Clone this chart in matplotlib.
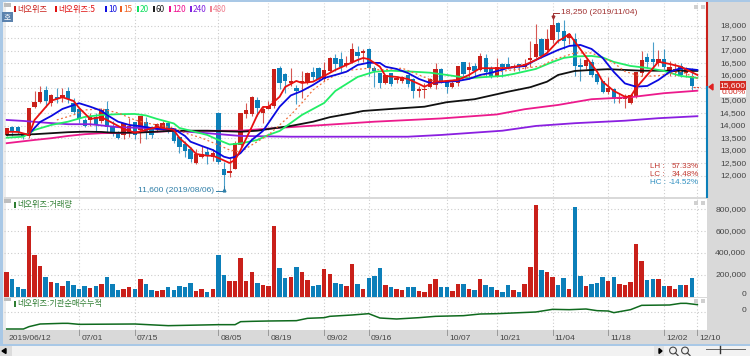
import matplotlib
matplotlib.use('Agg')
import matplotlib.pyplot as plt
from matplotlib.patches import Rectangle, Circle

W, H = 750, 356
KR = ['Noto Sans CJK KR', 'DejaVu Sans']
NUM = 'Liberation Sans'
RED = '#c9201a'
BLUE = '#0c7fb9'
GRAY = '#d9d9d9'
FS_NUM = 6.1
FS_KR = 5.9

opens = [13630, 13930, 13930, 13650, 13590, 14760, 14960, 15390, 14900, 15130, 15100, 15360, 14900, 14630, 14200, 14230, 14310,
         14200, 14630, 13960, 13700, 13630, 13700, 14120, 13830, 14120, 13900, 13900, 13900, 14070, 13760, 13520, 13250, 13030,
         12500, 12760, 12920, 12760, 14500, 12230, 12100, 12270, 13230, 14460, 14460, 15000, 14520, 14660, 14800, 16300, 16060,
         15720, 15500, 15720, 15700, 16120, 16300, 15870, 16200, 16670, 16630, 16430, 16560, 16930, 16920, 17060, 16270, 16070,
         15720, 16070, 15830, 15800, 16000, 15830, 15400, 15430, 15560, 15630, 16230, 15760, 15560, 15700, 16530, 16230, 16360,
         16230, 16700, 16300, 16000, 16430, 16460, 16300, 16460, 16360, 16630, 16760, 17430, 17030, 17430, 18100, 17760, 17500,
         17430, 16420, 16400, 16530, 16060, 15760, 15360, 15430, 15060, 15060, 14920, 15200, 16120, 16730, 16630, 16520, 16630,
         16120, 16160, 16360, 16100, 15960]
closes = [13870, 13760, 13760, 13600, 14700, 14920, 15340, 15000, 15190, 15050, 15200, 15060, 14560, 14270, 14000, 14310, 14030,
          14600, 13960, 13720, 13500, 14100, 13960, 13630, 14350, 13700, 13630, 14030, 14100, 13900, 13390, 13130, 13000, 12670,
          12850, 12830, 12830, 12870, 12530, 12030, 12160, 13300, 14470, 14590, 15140, 14720, 14630, 14760, 16230, 15720, 15800,
          15760, 15400, 15760, 16070, 15960, 15870, 16190, 16700, 16460, 16360, 16470, 17060, 16800, 16950, 16320, 16190, 15700,
          15990, 15670, 15900, 15930, 15670, 15400, 15430, 15450, 15830, 16230, 15760, 15560, 15700, 16360, 16060, 16340, 16190,
          16760, 16160, 15960, 16340, 16330, 16300, 16360, 16340, 16430, 16700, 17230, 16800, 17430, 18000, 17760, 17400, 17660,
          16400, 16330, 16600, 16030, 15740, 15360, 15470, 15060, 15100, 15100, 15200, 16120, 16590, 16560, 16530, 16630, 16340,
          16320, 16230, 16030, 16230, 15600]
highs = [13900, 14000, 14000, 13700, 14700, 15390, 15580, 15600, 15250, 15500, 15500, 15560, 15100, 14700, 14300, 14500, 14500,
         14700, 15000, 14200, 13800, 14100, 14300, 14150, 14400, 14350, 14000, 14100, 14200, 14150, 13800, 13600, 13400, 13150,
         13050, 13200, 13100, 13050, 14550, 12560, 12700, 13400, 14500, 14900, 15200, 15150, 14800, 15000, 16250, 16370, 16100,
         16300, 15620, 16200, 16150, 16360, 16350, 16560, 16750, 16870, 16950, 16800, 17300, 17200, 17050, 17100, 16400, 16070,
         16000, 16100, 16000, 16000, 16000, 15900, 15600, 15700, 15900, 16500, 16300, 15800, 15800, 16400, 16560, 16550, 16500,
         16920, 16850, 16400, 16700, 16500, 16750, 16450, 16480, 16650, 17390, 18070, 17500, 17850, 18250, 18150, 18220, 17700,
         17700, 16700, 16650, 16650, 16100, 15800, 15950, 15500, 15300, 15250, 15250, 16120, 17000, 16920, 17360, 17030, 17060,
         16600, 16500, 16500, 16350, 16300]
lows = [13600, 13600, 13650, 13450, 13500, 14700, 14900, 14760, 14800, 14900, 14950, 14900, 14450, 14100, 13950, 14000, 13800,
        14100, 13750, 13600, 13450, 13450, 13550, 13450, 13300, 13450, 13500, 13750, 13800, 13700, 13300, 12920, 12760, 12550,
        12450, 12700, 12450, 12600, 12450, 11400, 11950, 12250, 13150, 14300, 14400, 14400, 14100, 14650, 14700, 15450, 15300,
        15600, 14870, 15100, 15650, 15830, 15800, 15800, 16150, 16200, 16150, 16350, 16500, 16550, 16550, 16000, 15550, 15520,
        15650, 15600, 15700, 15700, 15550, 15100, 15150, 15100, 15500, 15450, 15700, 15300, 15500, 15600, 16000, 15850, 15950,
        16200, 15950, 15900, 15950, 15950, 16250, 16200, 16200, 16250, 16350, 16700, 16700, 16900, 17300, 17300, 17050, 17250,
        16000, 15800, 16250, 15950, 15650, 15300, 15250, 14900, 14900, 14700, 14850, 15100, 16000, 16300, 16350, 16400, 16250,
        16000, 16000, 15950, 15950, 15400]
volume = [223, 156, 89, 73, 651, 379, 278, 177, 131, 122, 95, 138, 107, 73, 95, 80, 95, 116, 177, 113, 61, 73, 83, 70, 156, 116,
          61, 49, 58, 83, 61, 95, 89, 122, 55, 67, 43, 67, 385, 199, 138, 138, 355, 144, 229, 122, 101, 98, 648, 260, 168, 180,
          269, 223, 150, 98, 107, 248, 205, 122, 113, 92, 300, 119, 70, 168, 190, 263, 101, 83, 70, 61, 83, 83, 52, 43, 119,
          162, 89, 89, 55, 113, 113, 70, 61, 162, 101, 89, 61, 40, 101, 64, 37, 119, 272, 838, 242, 229, 180, 107, 168, 73, 820,
          187, 98, 119, 125, 180, 138, 180, 113, 101, 131, 480, 327, 150, 162, 162, 95, 95, 73, 107, 107, 168]

ma5_idx = [0, 2, 4, 5, 8, 10, 12, 13, 15, 17, 19, 21, 23, 25, 27, 30, 31, 33, 34, 36, 37, 38, 40, 41, 42, 44, 45, 46, 47, 49, 50,
           52, 53, 55, 57, 59, 61, 63, 64, 65, 67, 68, 70, 72, 74, 75, 77, 79, 81, 83, 85, 87, 90, 93, 95, 97, 99, 100, 101, 102,
           104, 106, 107, 109, 111, 112, 113, 115, 117, 119, 121, 124]
ma5 = [13760, 13750, 13630, 14230, 15000, 15140, 14990, 14710, 14270, 14340, 14110, 13870, 13720, 13830, 13950, 13830, 13510,
       13110, 12870, 12800, 12800, 12710, 12510, 12630, 13030, 13950, 14430, 14750, 14750, 15160, 15550, 15790, 15710, 15760,
       15990, 16230, 16430, 16630, 16710, 16660, 16360, 15990, 15950, 15870, 15670, 15560, 15760, 15790, 15830, 16030, 16300,
       16300, 16310, 16430, 16630, 16910, 17390, 17510, 17670, 17360, 16750, 16160, 15760, 15390, 15160, 15160, 15510, 16030,
       16560, 16470, 16360, 16030]
ma10_idx = [4, 6, 8, 10, 13, 15, 17, 18, 20, 22, 24, 27, 30, 32, 33, 35, 37, 39, 40, 41, 42, 44, 46, 47, 49, 51, 53, 55, 57, 59,
            61, 63, 65, 67, 68, 70, 72, 74, 76, 78, 81, 83, 85, 87, 90, 93, 95, 97, 99, 101, 103, 105, 107, 109, 111, 113, 115,
            117, 119, 121, 124]
ma10 = [13670, 14150, 14390, 14670, 14900, 14760, 14600, 14430, 14160, 14030, 13980, 13870, 13870, 13590, 13360, 13190, 13030,
        12760, 12700, 12750, 12910, 13430, 13790, 14110, 14760, 15210, 15390, 15630, 15910, 16030, 16160, 16430, 16520, 16510,
        16360, 16270, 16110, 15870, 15710, 15740, 15790, 15870, 16030, 16120, 16310, 16390, 16630, 16830, 17030, 17190, 17230,
        17070, 16710, 16150, 15690, 15560, 15590, 15830, 16150, 16300, 16230]
ma15_idx = [9, 12, 14, 17, 20, 23, 25, 28, 30, 32, 35, 38, 40, 42, 44, 47, 51, 53, 55, 57, 59, 62, 65, 67, 71, 74, 77, 81, 85, 88,
            92, 96, 98, 102, 105, 107, 109, 111, 114, 117, 121, 124]
ma15 = [14230, 14430, 14630, 14670, 14510, 14230, 14110, 13990, 13910, 13710, 13510, 13230, 13030, 12950, 13230, 13630, 14430,
        14910, 15430, 15760, 16030, 16230, 16300, 16230, 16300, 16030, 15760, 15830, 15990, 16150, 16270, 16390, 16630, 16910,
        16910, 16710, 16510, 16170, 15970, 16000, 16170, 15890]
ma20_idx = [0, 3, 5, 8, 11, 14, 17, 20, 23, 25, 27, 30, 31, 33, 36, 38, 40, 42, 45, 47, 49, 51, 53, 55, 57, 59, 61, 63, 66, 69, 73,
            76, 79, 83, 86, 89, 91, 95, 98, 100, 102, 105, 107, 109, 112, 115, 118, 121, 124]
ma20 = [13520, 13560, 13830, 14030, 14160, 14350, 14430, 14460, 14470, 14410, 14270, 14090, 13910, 13800, 13630, 13430, 13250,
        13290, 13430, 13630, 13790, 14110, 14430, 14670, 14910, 15390, 15670, 15950, 16160, 16200, 16160, 16120, 16030, 15900,
        15950, 15990, 16070, 16270, 16550, 16710, 16770, 16790, 16730, 16550, 16390, 16310, 16190, 15990, 15910]
ma60_idx = [0, 5, 8, 11, 14, 17, 19, 23, 26, 30, 36, 42, 45, 48, 51, 55, 58, 62, 64, 69, 75, 79, 84, 86, 90, 94, 97, 99, 102, 105,
            108, 114, 119, 124]
ma60 = [13630, 13660, 13700, 13740, 13760, 13750, 13720, 13720, 13750, 13800, 13800, 13760, 13800, 13900, 13990, 14160, 14340,
        14500, 14590, 14670, 14760, 14940, 15060, 15160, 15360, 15540, 15760, 16030, 16190, 16230, 16260, 16200, 16200, 16190]
ma120_idx = [0, 5, 8, 11, 14, 17, 20, 26, 30, 42, 48, 57, 66, 78, 88, 93, 99, 105, 112, 118, 124]
ma120 = [13300, 13430, 13500, 13590, 13660, 13700, 13710, 13750, 13790, 13800, 13900, 14030, 14160, 14290, 14450, 14660, 14830,
         15060, 15140, 15300, 15400]
ma240_idx = [0, 3, 7, 11, 15, 20, 26, 30, 36, 42, 51, 72, 78, 89, 95, 102, 111, 117, 124]
ma240 = [14230, 14190, 14120, 14060, 14060, 13940, 13900, 13800, 13700, 13590, 13560, 13560, 13630, 13800, 13990, 14100, 14200,
         14300, 14380]

inst_idx = [0, 3, 4, 6, 10, 11, 13, 23, 29, 38, 41, 42, 44, 47, 52, 54, 57, 58, 62, 65, 67, 70, 74, 77, 82, 85, 88, 95, 98, 101,
            104, 106, 108, 109, 112, 114, 119, 121, 122, 124]
inst = [-52, -52, -45, -37, -35, -35, -38, -37, -42, -39, -39, -30, -29, -28, -27, -20, -18, -14, -10, -6, -19, -22, -18, -14,
        -12, -7, -6, -1, 7, 6, 8, 3, 2, -3, 6, 19, 20, 25, 25, 21]

tick_idx = [0, 13, 23, 38, 47, 57, 65, 79, 88, 98, 108, 118, 124]
tick_labels = ['2019/06/12', '07/01', '07/15', '08/05', '08/19', '09/02', '09/16', '10/07', '10/21', '11/04', '11/18', '12/02',
               '12/10']
price_ticks = [12000 + 500 * i for i in range(13)]
hidden_price_ticks = [15500]  # sits under the current price box
vol_ticks = [200, 400, 600, 800]
legend_items = [('네오위즈', 17, RED), ('네오위즈:5', 58, '#e01010'), ('10', 108, '#1010e0'), ('15', 123, '#f06020'),
                ('20', 140, '#10e060'), ('60', 156, '#202020'), ('120', 172, '#f01090'), ('240', 193, '#8020e0'),
                ('480', 213, '#f08090')]


def px_axes(fig, x0, y0, x1, y1, zorder=1):
    ax = fig.add_axes([x0 / W, 1 - y1 / H, (x1 - x0) / W, (y1 - y0) / H], zorder=zorder)
    ax.patch.set_alpha(0)
    ax.set_xticks([])
    ax.set_yticks([])
    for s in ax.spines.values():
        s.set_visible(False)
    return ax


def to_x(px):
    return (px - 6.7) / 5.57


def setup_panel(ax, y0, y1, hticks):
    ax.set_xlim(to_x(4), to_x(707))
    ax.set_ylim(y0, y1)
    for t in tick_idx[1:]:
        ax.axvline(t, color='#cccccc', lw=0.8, ls=(0, (1, 2)), zorder=0)
    for v in hticks:
        ax.axhline(v, color='#cccccc', lw=0.8, ls=(0, (1, 2)), zorder=0)


def rect(ax, x0, y0, x1, y1, color, zorder=1):
    ax.add_patch(Rectangle((x0, y0), x1 - x0, y1 - y0, facecolor=color, edgecolor='none', zorder=zorder))


def main():
    fig = plt.figure(figsize=(W / 100, H / 100), dpi=100, facecolor='white')

    bg = px_axes(fig, 0, 0, W, H, zorder=0)
    bg.set_xlim(0, W)
    bg.set_ylim(H, 0)
    rect(bg, 707, 0, W, 345, GRAY)
    rect(bg, 0, 0, 3, 345, '#a9c8e6')
    rect(bg, 3, 0, 6, 330, '#ededed')
    rect(bg, 0, 0, W, 2, '#a9c8e6')
    rect(bg, 4, 197, 707, 199, GRAY)
    rect(bg, 4, 296.5, 707, 298, GRAY)
    rect(bg, 3, 330, 707, 344, GRAY)
    rect(bg, 0, 344, W, 346, '#a9c8e6')
    rect(bg, 0, 346, W, H, '#f2f2f2')

    xs = list(range(len(closes)))
    colors = [RED if c >= o else BLUE for o, c in zip(opens, closes)]

    # price panel
    ax = px_axes(fig, 4, 3, 707, 197)
    setup_panel(ax, 12000 + (175.7 - 197) * 40, 12000 + (175.7 - 3) * 40, price_ticks)
    ax.vlines(xs, lows, highs, colors=colors, lw=0.8, alpha=0.75, zorder=2)
    ax.bar(xs, [abs(c - o) + 25 for o, c in zip(opens, closes)], bottom=[min(o, c) for o, c in zip(opens, closes)],
           width=0.78, color=colors, linewidth=0, zorder=3)
    ax.plot(ma240_idx, ma240, color='#8a1fe0', lw=1.3, zorder=4)
    ax.plot(ma120_idx, ma120, color='#ec1a8c', lw=1.3, zorder=4)
    ax.plot(ma60_idx, ma60, color='#111111', lw=1.3, zorder=4)
    ax.plot(ma20_idx, ma20, color='#22ee66', lw=1.3, zorder=5)
    ax.plot(ma15_idx, ma15, color='#f0703c', lw=0.9, ls=(0, (1.5, 2)), zorder=5)
    ax.plot(ma10_idx, ma10, color='#0a0ae0', lw=1.3, zorder=6)
    ax.plot(ma5_idx, ma5, color='#e81010', lw=1.3, zorder=7)

    # volume panel
    av = px_axes(fig, 4, 199, 707, 296.5)
    setup_panel(av, 0, (296.5 - 199) * 9.174, vol_ticks)
    av.bar(xs, volume, width=0.8, color=colors, linewidth=0, zorder=2)

    # institutional net buying panel
    ai = px_axes(fig, 4, 298, 707, 330)
    setup_panel(ai, -55, 41, [0])
    ai.plot(inst_idx, inst, color='#0f6a1e', lw=1.1, zorder=2)

    # overlay: text and window furniture, in pixels
    fg = px_axes(fig, 0, 0, W, H, zorder=5)
    fg.set_xlim(0, W)
    fg.set_ylim(H, 0)

    for name, x, c in legend_items:
        fg.add_patch(Rectangle((x - 3, 6), 1.6, 6, facecolor=c, edgecolor='none'))
        fg.text(x, 9.2, name, color=c, fontsize=FS_KR, family=KR, va='center', ha='left')
    fg.text(17, 205, '네오위즈:거래량', color='#2f7d32', fontsize=FS_KR, family=KR, va='center')
    fg.add_patch(Rectangle((14, 202), 1.6, 6, facecolor='#2f7d32', edgecolor='none'))
    fg.text(17, 303.5, '네오위즈:기관순매수누적', color='#2f7d32', fontsize=FS_KR, family=KR, va='center')
    fg.add_patch(Rectangle((14, 300.5), 1.6, 6, facecolor='#2f7d32', edgecolor='none'))
    rect(fg, 4, 3, 11, 7, '#bdbdbd')
    rect(fg, 4, 199, 11, 203, '#bdbdbd')
    rect(fg, 4, 298, 11, 301, '#bdbdbd')
    rect(fg, 2, 12, 13, 22, '#5b82ad')
    fg.text(7.5, 17, '호', color='white', fontsize=5.6, family=KR, va='center', ha='center')

    for y0 in (5, 201, 299):
        rect(fg, 694, y0, 698, y0 + 4, '#d0d0d0')
        rect(fg, 701, y0, 705, y0 + 4, '#d0d0d0')

    # price axis
    for v in price_ticks:
        if v in hidden_price_ticks:
            continue
        fg.text(746, 175.7 - (v - 12000) / 40, format(v, ','), color='#444444', fontsize=FS_NUM, family=NUM, va='center', ha='right')
    for v in vol_ticks:
        fg.text(746, 296.5 - v * 0.109, format(v * 1000, ','), color='#444444', fontsize=FS_NUM, family=NUM, va='center', ha='right')
    fg.text(746, 294, '0', color='#444444', fontsize=FS_NUM, family=NUM, va='center', ha='right')
    fg.text(746, 311, '0', color='#444444', fontsize=FS_NUM, family=NUM, va='center', ha='right')

    # current price
    fg.plot([707.3, 707.3], [3, 87], color='#c9201a', lw=1.5)
    fg.plot([707.3, 707.3], [87, 197], color='#0c7fb9', lw=1.5)
    fg.fill([709, 713, 713], [87, 84, 90], color='#e02020')
    rect(fg, 720, 81, 746, 89.5, '#d42a22')
    fg.text(745.5, 85.2, '15,600', color='white', fontsize=FS_NUM, family=NUM, va='center', ha='right')
    rect(fg, 720, 89.5, 746, 97, 'white')
    fg.text(745.5, 93, '0.00%', color='#d42a22', fontsize=FS_NUM, family=NUM, va='center', ha='right')
    fg.plot([693, 700], [86.7, 86.7], color='#e05040', lw=0.8, ls=(0, (2, 1)))

    # high / low notes
    fg.plot([552.5, 552.5, 559], [19, 13, 13], color='#a03030', lw=0.7)
    fg.plot([552.5], [17], marker='v', ms=2, color='#a03030')
    fg.text(561, 13, '18,250 (2019/11/04)', color='#a03030', fontsize=FS_NUM, family=NUM, va='center')
    fg.plot([216, 224, 224], [191, 191, 186], color='#2f7fa8', lw=0.7)
    fg.plot([224], [190], marker='^', ms=2, color='#2f7fa8')
    fg.text(214, 191, '11,600 (2019/08/06)', color='#2f7fa8', fontsize=FS_NUM, family=NUM, va='center', ha='right')

    fg.text(650, 166, 'LH :', color='#c23a32', fontsize=5.8, family=NUM, va='center')
    fg.text(699, 166, '57.33%', color='#c23a32', fontsize=5.8, family=NUM, va='center', ha='right')
    fg.text(650, 174, 'LC :', color='#c23a32', fontsize=5.8, family=NUM, va='center')
    fg.text(699, 174, '34.48%', color='#c23a32', fontsize=5.8, family=NUM, va='center', ha='right')
    fg.text(650, 182, 'HC :', color='#2f8fc0', fontsize=5.8, family=NUM, va='center')
    fg.text(699, 182, '-14.52%', color='#2f8fc0', fontsize=5.8, family=NUM, va='center', ha='right')

    # date axis
    for t, lab in zip(tick_idx, tick_labels):
        x = 6.7 + 5.57 * t
        if t > 0:
            fg.plot([x, x], [330, 335], color='#9a9a9a', lw=0.7)
        fg.text(x + 2.2, 338, lab, color='#444444', fontsize=FS_NUM, family=NUM, va='center')

    # scroll bar and zoom buttons
    rect(fg, 0, 346, 12, H, '#dcdcdc')
    fg.fill([2, 6, 6], [351, 348.5, 353.5], color='black')
    rect(fg, 654, 346, 664, H, '#e4e4e4')
    fg.fill([659, 659, 662], [348.5, 353.5, 351], color='black')
    for cx in (673, 685):
        fg.add_patch(Circle((cx, 350.5), 3.4, fill=False, edgecolor='#444444', lw=0.8))
        fg.plot([cx + 2.4, cx + 5], [353, 355.5], color='#444444', lw=0.9)
    fg.plot([706, 745], [349, 349], color='#666666', lw=0.7)
    fg.plot([720, 720], [346, 353], color='#333333', lw=1.0)

    fig.savefig('out.png', dpi=100)


if __name__ == "__main__":
    main()
